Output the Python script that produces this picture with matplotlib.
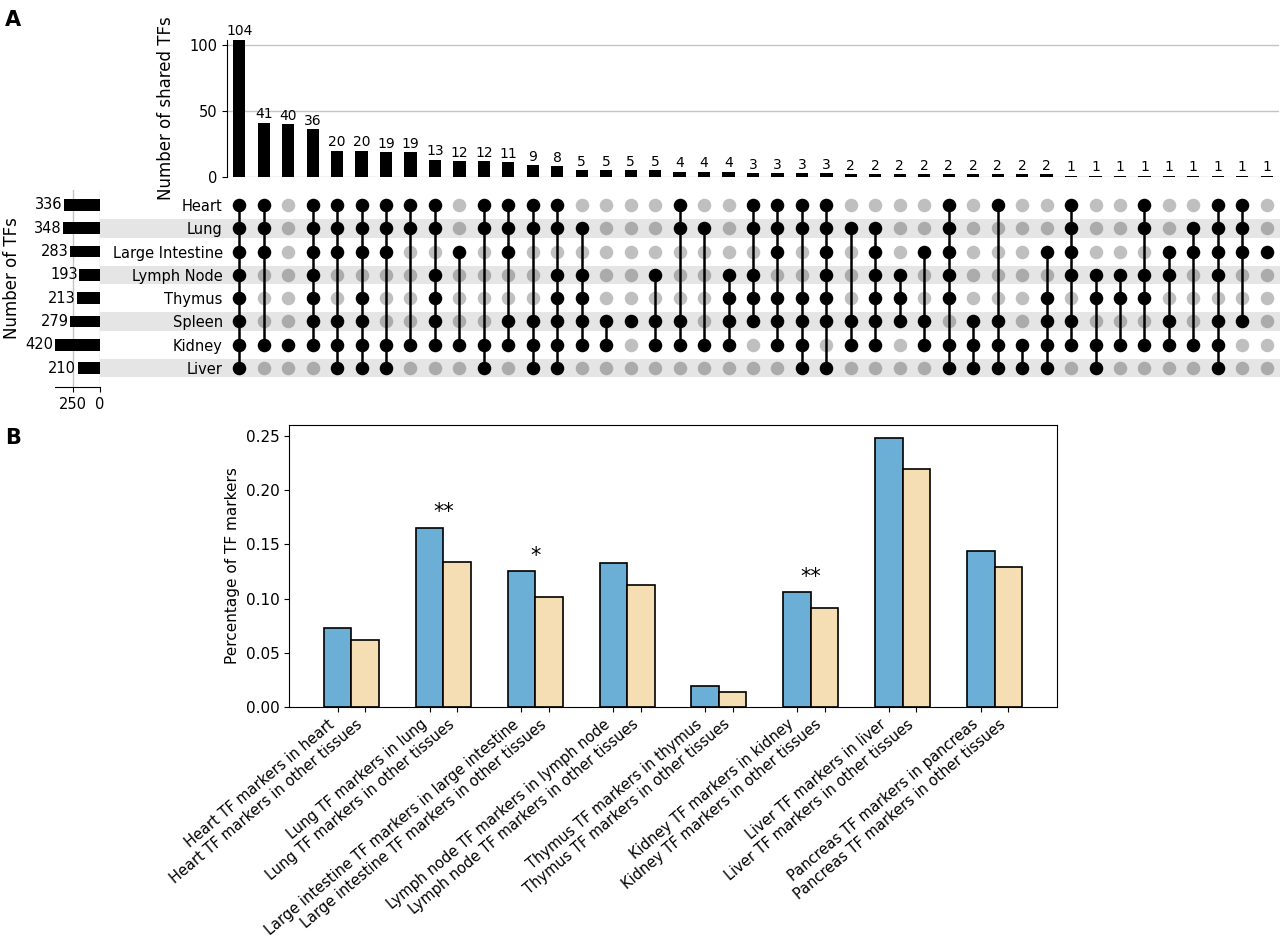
import matplotlib.pyplot as plt
import numpy as np

# ---- data ----
tissues = ['Heart', 'Lung', 'Large Intestine', 'Lymph Node', 'Thymus', 'Spleen', 'Kidney', 'Liver']
tissue_totals = [336, 348, 283, 193, 213, 279, 420, 210]

# membership of each intersection, one char per tissue in the order above
memberships = [
    '11111111', '11100010', '00000010', '11111110', '11100111', '11101111',
    '11100011', '11000010', '11011110', '00100010', '11000011', '11100110',
    '11000111', '11011111', '01011110', '00000110', '00000100', '00010110',
    '11000110', '01000010', '00011110', '11011100', '11101110', '11001111',
    '11111101', '01000110', '01111110', '00011100', '00100110', '11111011',
    '00000111', '10000111', '00000011', '00101111', '11110110', '00011011',
    '00011010', '11011010', '00110110', '01100010', '11110111', '11100100',
    '00100000',
]
shared_counts = [104, 41, 40, 36, 20, 20, 19, 19, 13, 12, 12, 11, 9, 8,
                 5, 5, 5, 5, 4, 4, 4, 3, 3, 3, 3,
                 2, 2, 2, 2, 2, 2, 2, 2, 2,
                 1, 1, 1, 1, 1, 1, 1, 1, 1]

groups = ['heart', 'lung', 'large intestine', 'lymph node', 'thymus', 'kidney', 'liver', 'pancreas']
groups_cap = ['Heart', 'Lung', 'Large intestine', 'Lymph node', 'Thymus', 'Kidney', 'Liver', 'Pancreas']
pct_in_tissue = [0.0726, 0.1654, 0.1252, 0.1328, 0.0194, 0.1061, 0.2478, 0.1436]
pct_other = [0.0621, 0.1338, 0.1015, 0.1122, 0.0141, 0.0910, 0.2198, 0.1291]
stars = {1: '**', 2: '*', 5: '**'}

W, H = 1280, 942
fig = plt.figure(figsize=(W / 100, H / 100), dpi=100)


def px_axes(left, top, right, bottom):
    return fig.add_axes([left / W, 1 - bottom / H, (right - left) / W, (bottom - top) / H])


n_cols = len(shared_counts)
n_rows = len(tissues)
xs = np.arange(n_cols)

# ---- intersection bars ----
ax_bar = px_axes(227, 39.7, 1279, 177)
ax_bar.bar(xs, shared_counts, width=0.5, color='black', zorder=3)
for x, v in zip(xs, shared_counts):
    ax_bar.annotate(str(v), (x, v), xytext=(0, 1), textcoords='offset points',
                    ha='center', va='bottom', fontsize=10)
ax_bar.set_xlim(-0.5, n_cols - 0.5)
ax_bar.set_ylim(0, 104)
ax_bar.set_yticks([0, 50, 100])
ax_bar.set_xticks([])
ax_bar.grid(axis='y', color='#c4c4c4', linewidth=1)
ax_bar.set_axisbelow(True)
for s in ['top', 'right', 'bottom']:
    ax_bar.spines[s].set_visible(False)
ax_bar.tick_params(axis='y', labelsize=10.5)
ax_bar.set_ylabel('Number of shared TFs', fontsize=12, labelpad=10)

# ---- matrix ----
ax_mat = px_axes(227, 193.4, 1279, 379.6)
ax_mat.set_xlim(-0.5, n_cols - 0.5)
ax_mat.set_ylim(n_rows - 0.5, -0.5)
for r in range(1, n_rows, 2):
    band = ax_mat.axhspan(r - 0.4, r + 0.4, xmin=(100 - 227) / 1052, xmax=1.02,
                          color='#e5e5e5', zorder=0, lw=0)
    band.set_clip_on(False)
for c, m in enumerate(memberships):
    on = [r for r in range(n_rows) if m[r] == '1']
    off = [r for r in range(n_rows) if m[r] == '0']
    ax_mat.scatter([c] * len(off), off, s=95, color='black', alpha=0.25, lw=0, zorder=2)
    if len(on) > 1:
        ax_mat.plot([c, c], [min(on), max(on)], color='black', lw=1.8, zorder=3)
    ax_mat.scatter([c] * len(on), on, s=95, color='black', lw=0, zorder=4)
ax_mat.set_yticks(range(n_rows))
ax_mat.set_yticklabels(tissues, fontsize=10.5)
ax_mat.set_xticks([])
ax_mat.tick_params(axis='y', length=0, pad=3)
for s in ax_mat.spines.values():
    s.set_visible(False)
ax_mat.patch.set_visible(False)

# ---- totals ----
ax_tot = px_axes(55, 190, 100, 387)
ax_tot.barh(range(n_rows), tissue_totals, height=0.5, color='black', zorder=3)
for r, v in enumerate(tissue_totals):
    ax_tot.annotate(str(v), (v, r), xytext=(-1, 0), textcoords='offset points',
                    ha='right', va='center', fontsize=10.5)
ax_tot.set_xlim(420, 0)
ax_tot.set_ylim(7 + 19 / 23.3, -15 / 23.3)
ax_tot.set_xticks([250, 0])
ax_tot.set_yticks([])
ax_tot.grid(axis='x', color='#c4c4c4', linewidth=1)
ax_tot.set_axisbelow(True)
for s in ['top', 'right', 'left']:
    ax_tot.spines[s].set_visible(False)
ax_tot.tick_params(axis='x', labelsize=10.5)
ax_tot.patch.set_visible(False)
fig.text(12 / W, 1 - 278 / H, 'Number of TFs', rotation=90, ha='center', va='center', fontsize=12)

# ---- panel B ----
ax_b = px_axes(289, 425, 1057, 707)
pos = np.arange(len(groups))
ax_b.bar(pos - 0.15, pct_in_tissue, width=0.3, color='#6baed6', edgecolor='black', linewidth=1.2)
ax_b.bar(pos + 0.15, pct_other, width=0.3, color='#f5deb3', edgecolor='black', linewidth=1.2)
for i, st in stars.items():
    ax_b.text(pos[i], max(pct_in_tissue[i], pct_other[i]) + 0.005, st,
              ha='center', va='bottom', fontsize=15)
tick_pos = []
tick_lab = []
for i, (g, gc) in enumerate(zip(groups, groups_cap)):
    tick_pos += [pos[i] - 0.15, pos[i] + 0.15]
    tick_lab += [f'{gc} TF markers in {g}', f'{gc} TF markers in other tissues']
ax_b.set_xticks(tick_pos)
ax_b.set_xticklabels(tick_lab, rotation=40, ha='right', fontsize=10.5)
ax_b.set_yticks(np.arange(0, 0.26, 0.05))
ax_b.tick_params(axis='y', labelsize=11)
ax_b.set_ylabel('Percentage of TF markers', fontsize=11)

fig.text(5 / W, 1 - 20 / H, 'A', fontsize=15, fontweight='bold', va='center', ha='left')
fig.text(5 / W, 1 - 438 / H, 'B', fontsize=15, fontweight='bold', va='center', ha='left')

fig.savefig('out.png', dpi=100)
